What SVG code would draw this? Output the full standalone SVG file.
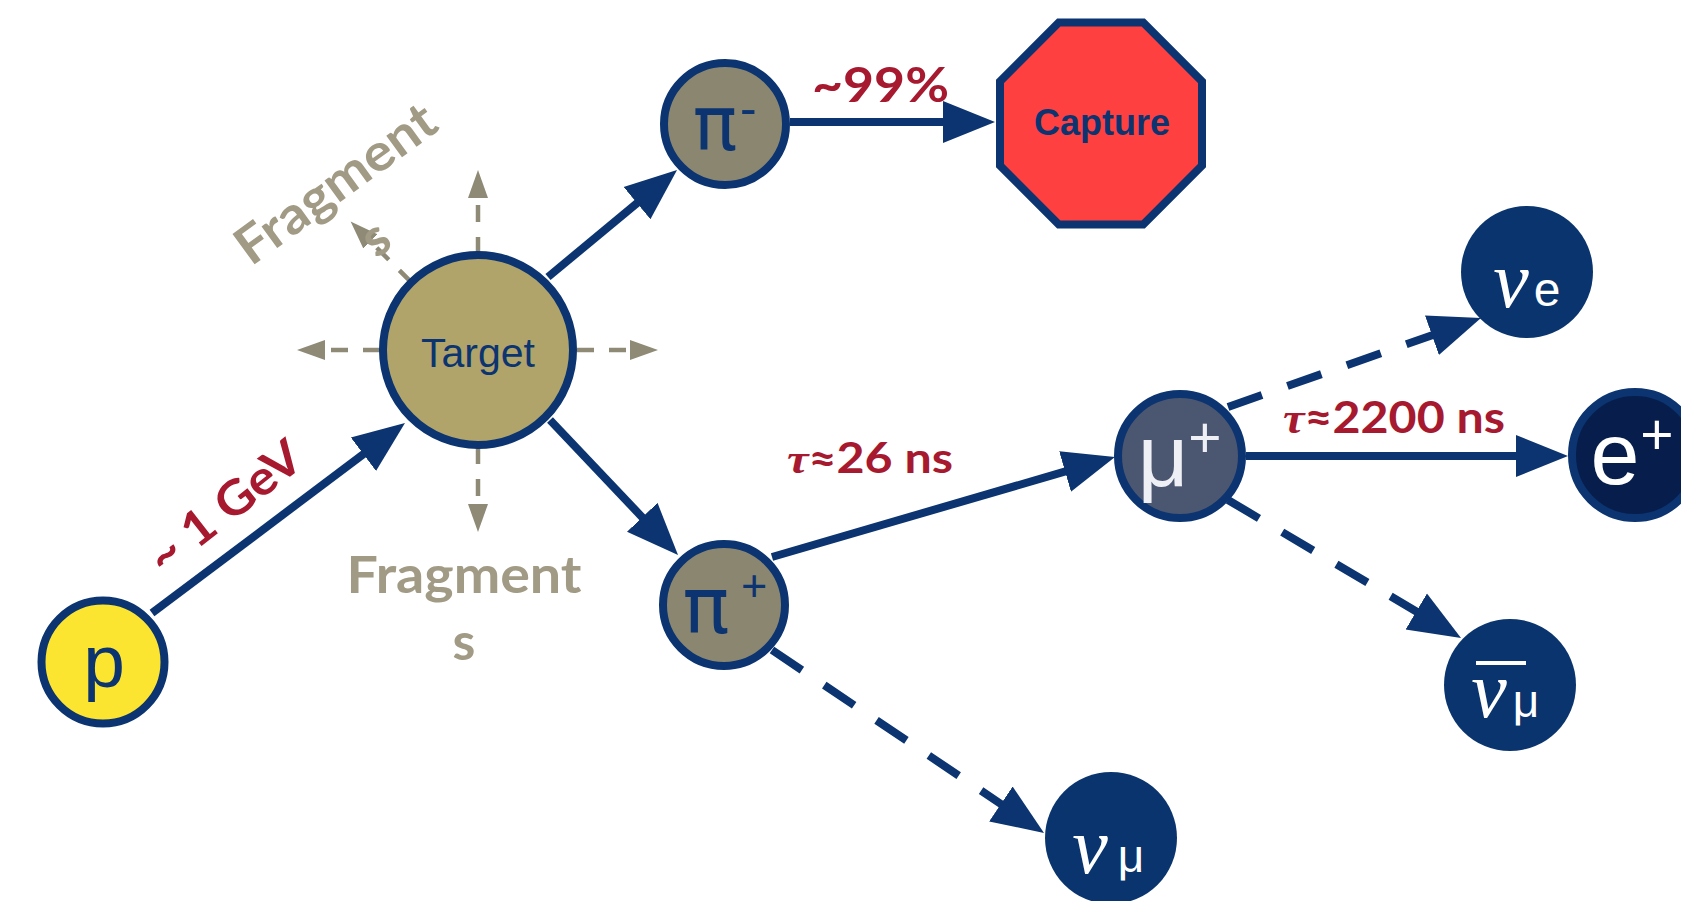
<svg xmlns="http://www.w3.org/2000/svg" width="1681" height="901" viewBox="0 0 1681 901">
  <defs>
    <marker id="head" markerUnits="userSpaceOnUse" viewBox="0 -22 54 44" markerWidth="54" markerHeight="44" refX="4" refY="0" orient="auto">
      <path d="M0,-21 L52,0 L0,21 z" fill="#0b3470"/>
    </marker>
    <marker id="frag-head" markerUnits="userSpaceOnUse" viewBox="0 -11 30 22" markerWidth="30" markerHeight="22" refX="2" refY="0" orient="auto">
      <path d="M0,-10 L28,0 L0,10 z" fill="#8e8a76"/>
    </marker>
  </defs>
  <style>
    .flow { fill: none; stroke: #0b3470; stroke-width: 8; marker-end: url(#head); }
    .decay { fill: none; stroke: #0b3470; stroke-width: 8; stroke-dasharray: 36 27; marker-end: url(#head); }
    .frag { fill: none; stroke: #8e8a76; stroke-width: 4.5; stroke-dasharray: 17 15; marker-end: url(#frag-head); }
    .node { stroke: #0b3470; stroke-width: 8; }
    .nu { fill: #0a346e; }
    .sym { font-family: "Liberation Sans", Arial, sans-serif; }
    .pi { font-family: "DejaVu Sans", "Liberation Sans", sans-serif; }
    .nu-sym { font-family: "Liberation Serif", "DejaVu Serif", serif; font-style: italic; fill: #ffffff; }
    .nu-sub { font-family: "Liberation Sans", Arial, sans-serif; fill: #ffffff; }
    .label { font-family: Lato, "DejaVu Sans", sans-serif; font-weight: bold; fill: #a6192e; }
    .tau { font-family: "Liberation Serif", "DejaVu Serif", serif; font-style: italic; }
    .fragment { font-family: Lato, "DejaVu Sans", sans-serif; font-weight: bold; fill: #a19a84; font-size: 52px; text-anchor: middle; }
  </style>
  <rect width="1681" height="901" fill="#ffffff"/>

  <!-- connectors -->
  <g id="connectors">
    <!-- fragments scattered from the target -->
    <path class="frag" d="M478,254 L478,196"/>
    <path class="frag" d="M380,350 L323,350"/>
    <path class="frag" d="M577,350 L632,350"/>
    <path class="frag" d="M478,447 L478,506"/>
    <path class="frag" d="M411.4,282.4 L369,240"/>
    <!-- beam and pion production -->
    <path class="flow" d="M152,613 L366.6,451.8"/>
    <path class="flow" d="M548,277 L640.1,200.6"/>
    <path class="flow" d="M790,122 L947,122"/>
    <path class="flow" d="M550,420 L645,520.2"/>
    <!-- decays -->
    <path class="flow" d="M772,557 L1068.9,470.4"/>
    <path class="flow" d="M1246,456 L1520,456"/>
    <path class="decay" d="M1228,407 L1435.7,333.9"/>
    <path class="decay" d="M1228,500 L1419.7,613.5"/>
    <path class="decay" d="M772,650 L1004.2,806.2"/>
  </g>

  <!-- connector labels -->
  <g id="labels">
    <text class="label" x="235" y="520" font-size="48" text-anchor="middle" textLength="182" lengthAdjust="spacingAndGlyphs" transform="rotate(-38 235 520)">~ 1 GeV</text>
    <text class="label" x="812" y="102" font-size="48" textLength="137" lengthAdjust="spacingAndGlyphs">~99%</text>
    <text class="label" x="787" y="473" font-size="42" textLength="166" lengthAdjust="spacingAndGlyphs"><tspan class="tau">τ</tspan>≈26 ns</text>
    <text class="label" x="1283" y="433" font-size="44" textLength="222" lengthAdjust="spacingAndGlyphs"><tspan class="tau">τ</tspan>≈2200 ns</text>
  </g>

  <!-- fragment captions -->
  <g id="fragments-upper" transform="translate(346 198) rotate(-36)">
    <text class="fragment" x="0" y="0" textLength="235" lengthAdjust="spacingAndGlyphs">Fragment</text>
    <text class="fragment" x="0" y="67">s</text>
  </g>
  <g id="fragments-lower">
    <text class="fragment" x="464" y="593" textLength="235" lengthAdjust="spacingAndGlyphs">Fragment</text>
    <text class="fragment" x="464" y="660">s</text>
  </g>

  <!-- nodes -->
  <g id="proton">
    <circle class="node" cx="103" cy="662" r="61.5" fill="#fce531"/>
    <text class="sym" x="104" y="687" font-size="75" fill="#0b3470" text-anchor="middle">p</text>
  </g>

  <g id="target">
    <circle class="node" cx="478" cy="350" r="95" fill="#b0a46b" stroke-width="9"/>
    <text class="sym" x="478" y="367" font-size="41" fill="#0b3470" text-anchor="middle">Target</text>
  </g>

  <g id="pion-minus">
    <circle class="node" cx="725" cy="124" r="61" fill="#8b8670"/>
    <text class="pi" x="715" y="150" font-size="74" fill="#0b3470" text-anchor="middle">π</text>
    <text class="sym" x="740" y="125" font-size="50" fill="#0b3470">-</text>
  </g>

  <g id="capture">
    <path class="node" d="M1058.8,22.5 L1143.2,22.5 L1202,81.3 L1202,165.7 L1143.2,224.5 L1058.8,224.5 L1000,165.7 L1000,81.3 Z" fill="#ff4040"/>
    <text class="sym" x="1102" y="135" font-size="36" font-weight="bold" fill="#0b3470" text-anchor="middle">Capture</text>
  </g>

  <g id="pion-plus">
    <circle class="node" cx="724" cy="605" r="61" fill="#8b8670"/>
    <text class="pi" x="706" y="633" font-size="78" fill="#0b3470" text-anchor="middle">π</text>
    <text class="sym" x="741" y="601" font-size="45" fill="#0b3470">+</text>
  </g>

  <g id="muon">
    <circle class="node" cx="1180" cy="456" r="62" fill="#4b5670"/>
    <text class="sym" fill="#eef0f6"><tspan x="1163" y="486" font-size="88" text-anchor="middle">μ</tspan><tspan x="1205" y="457" font-size="57" text-anchor="middle">+</tspan></text>
  </g>

  <g id="positron">
    <circle class="node" cx="1635" cy="455" r="63" fill="#071e4c"/>
    <text class="sym" fill="#ffffff"><tspan x="1615" y="484" font-size="88" text-anchor="middle">e</tspan><tspan x="1657" y="454" font-size="57" text-anchor="middle">+</tspan></text>
  </g>

  <g id="nu-e">
    <circle class="nu" cx="1527" cy="272" r="66"/>
    <text class="nu-sym" x="1511" y="307" font-size="80" text-anchor="middle">ν</text>
    <text class="nu-sub" x="1547" y="306" font-size="48" text-anchor="middle">e</text>
  </g>

  <g id="anti-nu-mu">
    <circle class="nu" cx="1510" cy="685" r="66"/>
    <line x1="1476" y1="663" x2="1526" y2="663" stroke="#ffffff" stroke-width="4"/>
    <text class="nu-sym" x="1489" y="717" font-size="80" text-anchor="middle">ν</text>
    <text class="nu-sub" x="1526" y="717" font-size="46" text-anchor="middle">μ</text>
  </g>

  <g id="nu-mu">
    <circle class="nu" cx="1111" cy="838" r="66"/>
    <text class="nu-sym" x="1090" y="873" font-size="80" text-anchor="middle">ν</text>
    <text class="nu-sub" x="1131" y="872" font-size="46" text-anchor="middle">μ</text>
  </g>
</svg>
